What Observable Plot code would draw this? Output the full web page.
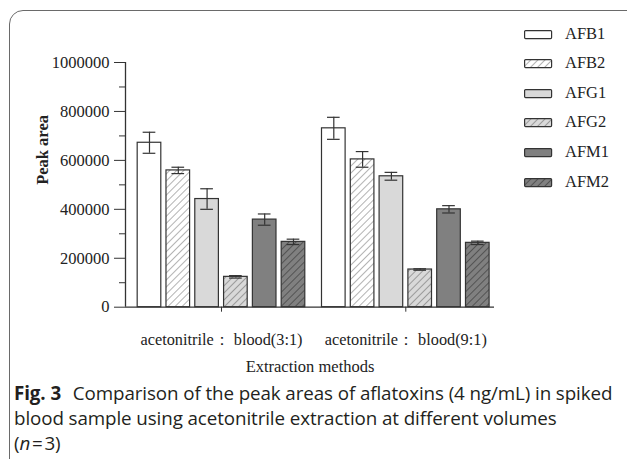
<!DOCTYPE html>
<html>
<head>
<meta charset="utf-8">
<script src="https://cdn.jsdelivr.net/npm/d3@7"></script>
<script src="https://cdn.jsdelivr.net/npm/@observablehq/plot@0.6"></script>
<style>
  html, body { margin: 0; padding: 0; background: #fff; }
  body { width: 627px; height: 459px; position: relative; overflow: hidden; }
  #frame { position: absolute; left: 9px; top: 10px; width: 650px; height: 500px;
           border: 1.5px solid #6a6a6a; border-radius: 14px; box-sizing: border-box; }
  #chart { position: absolute; left: 0; top: 0; }
  #legend { position: absolute; left: 0; top: 0; font-family: "Liberation Serif", serif; font-size: 16.5px; color: #222; }
  .row { position: absolute; left: 524px; height: 20px; }
  .row svg { position: absolute; left: 0; top: 6px; }
  .row span { position: absolute; left: 41px; top: 0; line-height: 20px; white-space: nowrap; }
  #caption { position: absolute; left: 14px; top: 381px; font-family: "Open Sans", sans-serif;
             font-size: 18.8px; line-height: 25px; color: #231f20; white-space: nowrap; letter-spacing: -0.1px; }
  #caption b { font-weight: 700; margin-right: 7px; }
</style>
</head>
<body>
<svg width="0" height="0" style="position:absolute">
  <defs>
    <pattern id="hatchWhite" patternUnits="userSpaceOnUse" width="5" height="5" patternTransform="rotate(45)">
      <rect width="5" height="5" fill="#ffffff"></rect>
      <line x1="0" y1="0" x2="0" y2="5" stroke="#8a8a8a" stroke-width="1.3"></line>
    </pattern>
    <pattern id="hatchLight" patternUnits="userSpaceOnUse" width="5" height="5" patternTransform="rotate(45)">
      <rect width="5" height="5" fill="#d9d9d9"></rect>
      <line x1="0" y1="0" x2="0" y2="5" stroke="#7a7a7a" stroke-width="1.3"></line>
    </pattern>
    <pattern id="hatchDark" patternUnits="userSpaceOnUse" width="5" height="5" patternTransform="rotate(45)">
      <rect width="5" height="5" fill="#808080"></rect>
      <line x1="0" y1="0" x2="0" y2="5" stroke="#3a3a3a" stroke-width="1.3"></line>
    </pattern>
  </defs>
</svg>
<div id="frame"></div>
<div id="chart"></div>
<div id="legend"></div>
<div id="caption"><b>Fig. 3</b> Comparison of the peak areas of aflatoxins (4 ng/mL) in spiked<br>blood sample using acetonitrile extraction at different volumes<br>(<i style="font-style:italic">n</i>&#8202;=&#8202;3)</div>
<script>
// ---- data ----
const groups = ["acetonitrile： blood(3:1)", "acetonitrile： blood(9:1)"];
const series = ["AFB1", "AFB2", "AFG1", "AFG2", "AFM1", "AFM2"];
const mean31 = [672000, 559000, 442000, 124000, 358000, 267000];
const err31  = [43000, 13000, 42000, 5000, 23000, 11000];
const mean91 = [731000, 604000, 535000, 154000, 400000, 263000];
const err91  = [45000, 32000, 16000, 3000, 15000, 7000];
const yTicks = [0, 200000, 400000, 600000, 800000, 1000000];
const yMinorTicks = [100000, 300000, 500000, 700000, 900000];
const seriesFill = ["#ffffff", "url(#hatchWhite)", "#d9d9d9", "url(#hatchLight)", "#808080", "url(#hatchDark)"];

// ---- layout helpers ----
const groupStep = 6.4;      // distance between group starts, in bar slots
const halfBar = 0.41;       // half bar width, in bar slots
const halfCap = 0.22;
const xDomain = [-0.833, 11.98];

const means = [mean31, mean91];
const errs = [err31, err91];
const rows = [];
groups.forEach((g, gi) => series.forEach((s, si) => rows.push({
  group: g, series: s, si, pos: gi * groupStep + si,
  mean: means[gi][si], err: errs[gi][si]
})));
const groupCenters = groups.map((g, gi) => gi * groupStep + (series.length - 1) / 2);

const ink = "#333";
const H = 380;
const chart = Plot.plot({
  width: 627,
  height: H,
  marginLeft: 125,
  marginRight: 133,
  marginTop: 62,
  marginBottom: H - 306.7,
  x: {type: "linear", domain: xDomain, axis: null},
  y: {domain: [0, 1000000], axis: null},
  color: {type: "identity"},
  style: {fontFamily: "Liberation Serif, serif", fontSize: "16.5px", color: "#222", background: "transparent", overflow: "visible"},
  marks: [
    Plot.rect(rows, {x1: d => d.pos - halfBar, x2: d => d.pos + halfBar, y1: 0, y2: "mean",
      fill: d => seriesFill[d.si], stroke: ink, strokeWidth: 1.2}),
    Plot.ruleX(rows, {x: "pos", y1: d => d.mean - d.err, y2: d => d.mean + d.err, stroke: ink, strokeWidth: 1.2}),
    Plot.ruleY(rows, {y: d => d.mean + d.err, x1: d => d.pos - halfCap, x2: d => d.pos + halfCap, stroke: ink, strokeWidth: 1.2}),
    Plot.ruleY(rows, {y: d => d.mean - d.err, x1: d => d.pos - halfCap, x2: d => d.pos + halfCap, stroke: ink, strokeWidth: 1.2}),
    Plot.ruleY([0], {stroke: ink, strokeWidth: 1.3}),
    Plot.ruleX([xDomain[0]], {stroke: ink, strokeWidth: 1.3}),
    Plot.axisY({ticks: yTicks, tickSize: 11, tickPadding: 5, tickFormat: d => String(d), label: null, stroke: ink, fontSize: 16.5}),
    Plot.axisY({ticks: yMinorTicks, tickSize: 6, tickFormat: () => "", label: null, stroke: ink}),
    Plot.axisX({ticks: groupCenters, tickSize: 5, tickPadding: 21.5, label: null, stroke: ink, fontSize: 16.3,
      tickFormat: d => groups[groupCenters.indexOf(d)]}),
    Plot.text(["Peak area"], {frameAnchor: "left", rotate: -90, dx: -83, fontWeight: "bold", fontSize: 16.5, fill: "#222"}),
    Plot.text(["Extraction methods"], {frameAnchor: "bottom", dy: 65, fontSize: 16.5, fill: "#222"})
  ]
});
document.getElementById("chart").append(chart);

// ---- legend ----
const legend = document.getElementById("legend");
series.forEach((s, i) => {
  const row = document.createElement("div");
  row.className = "row";
  row.style.top = (23.5 + i * 29.6) + "px";
  row.innerHTML = `<svg width="29" height="10"><rect x="0.6" y="0.6" width="27" height="8" rx="1" fill="${seriesFill[i]}" stroke="${ink}" stroke-width="1.2"></rect></svg><span>${s}</span>`;
  legend.append(row);
});
</script>
</body>
</html>
